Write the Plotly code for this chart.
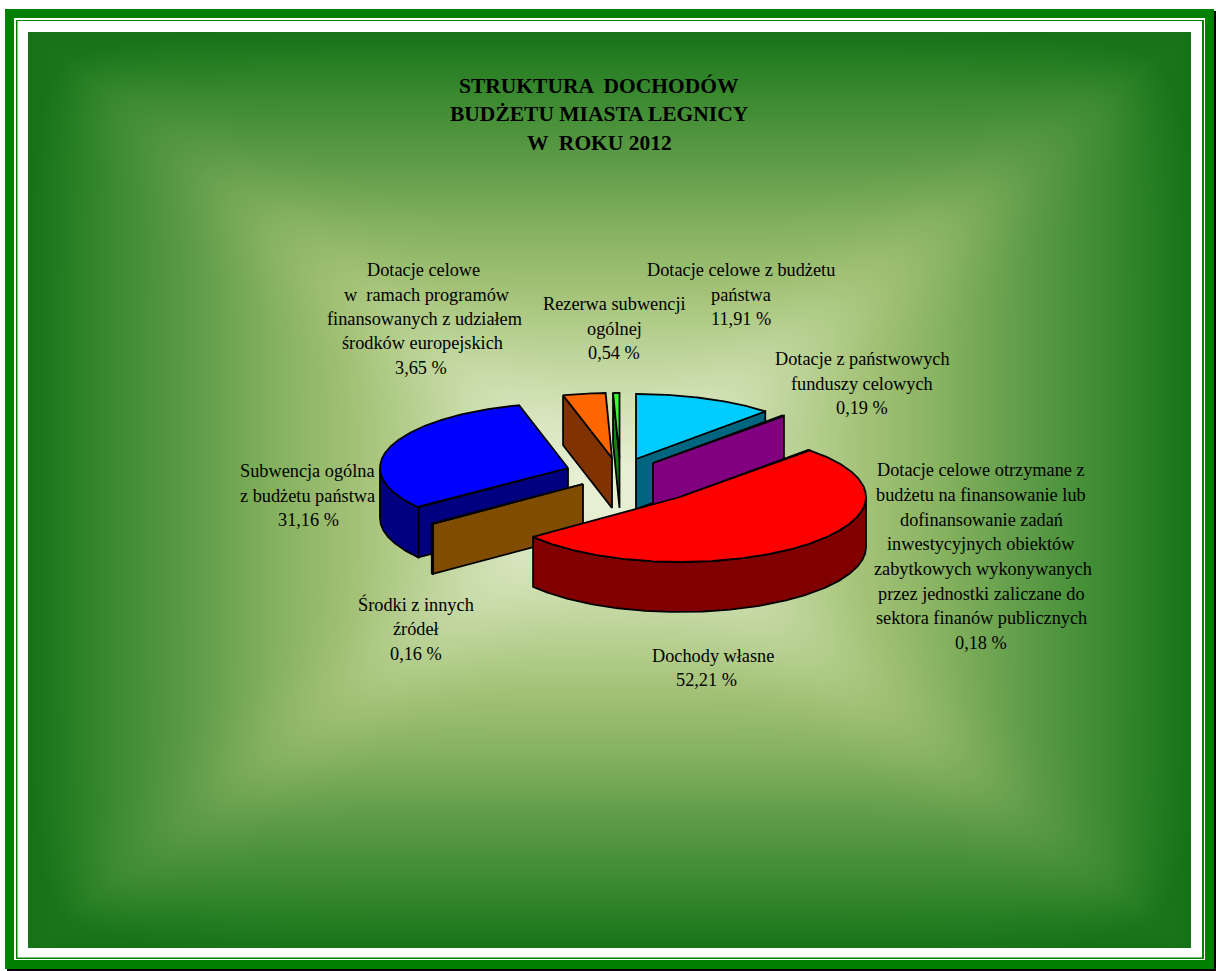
import numpy as np
import plotly.graph_objects as go

# ---- data ----
CATEGORIES = [
    "Dotacje celowe z budżetu państwa",
    "Dotacje z państwowych funduszy celowych",
    "Dotacje celowe otrzymane z budżetu na finansowanie lub dofinansowanie zadań inwestycyjnych obiektów zabytkowych",
    "Dochody własne",
    "Środki z innych źródeł",
    "Subwencja ogólna z budżetu państwa",
    "Dotacje celowe w ramach programów finansowanych z udziałem środków europejskich",
    "Rezerwa subwencji ogólnej",
]
VALUES = [11.91, 0.19, 0.18, 52.21, 0.16, 31.16, 3.65, 0.54]
TOP_COLORS = ["#00ccff", "#ff00ff", "#ff0000", "#ff0000", "#ff9900", "#0000ff", "#ff6600", "#33ff33"]
SIDE_COLORS = ["#006680", "#800080", "#800000", "#800000", "#804d00", "#000080", "#803300", "#1a801a"]

# exploded slice centres and radii on the page
CENTER_X = [636, 653, 680, 680, 583, 568, 612, 619.5]
CENTER_Y = [459, 463, 497, 497, 484, 468, 458, 458]
RADIUS_X = [190, 190, 186, 186, 190, 188, 188, 190]
DRAW_ORDER = [0, 1, 2, 6, 7, 5, 4, 3]
RY, DEPTH = 65, 50

TITLE_LINES = ["STRUKTURA  DOCHODÓW", "BUDŻETU MIASTA LEGNICY", "W  ROKU 2012"]
TITLE_X = [599, 599, 599]
TITLE_Y = [86, 114, 143]

LABEL_LINES = [
    "Dotacje celowe", "w  ramach programów", "finansowanych z udziałem", "środków europejskich", "3,65 %",
    "Rezerwa subwencji", "ogólnej", "0,54 %",
    "Dotacje celowe z budżetu", "państwa", "11,91 %",
    "Dotacje z państwowych", "funduszy celowych", "0,19 %",
    "Dotacje celowe otrzymane z", "budżetu na finansowanie lub", "dofinansowanie zadań",
    "inwestycyjnych obiektów", "zabytkowych wykonywanych", "przez jednostki zaliczane do",
    "sektora finanów publicznych", "0,18 %",
    "Dochody własne", "52,21 %",
    "Subwencja ogólna", "z budżetu państwa", "31,16 %",
    "Środki z innych", "źródeł", "0,16 %",
]
LABEL_X = [423, 427, 424, 422, 421,
           614, 614, 614,
           741, 741, 741,
           862, 862, 862,
           981, 981, 981, 981, 983, 981, 981, 981,
           713, 706,
           307, 307, 308,
           416, 416, 416]
LABEL_Y = [270, 295, 319, 343, 368,
           304, 329, 353,
           270, 295, 319,
           359, 384, 408,
           470, 495, 520, 544, 569, 594, 618, 643,
           656, 680,
           471, 496, 520,
           604, 629, 654]

FONT = "Liberation Serif"
FONT_SIZE = 18.3
TITLE_SIZE = 21.5
GREEN = "#008000"

fig = go.Figure()


# ---- background gradient (decorative panel) ----
nx, ny = 232, 184
x0, x1, y0, y1 = 28, 1191, 32, 948
dx, dy = (x1 - x0) / nx, (y1 - y0) / ny
bx = x0 + dx * (np.arange(nx) + 0.5)
by = y0 + dy * (np.arange(ny) + 0.5)
gx, gy = np.meshgrid(bx, by)
u = np.abs((gx - 610) / 581)
v = np.abs((gy - 490) / 458)
t = np.clip((u ** 10 + v ** 10) ** 0.1, 0, 1)
edge = np.clip(np.minimum(1 - u, 1 - v) / 0.14, 0, 1)
ridge = np.exp(-(((u - v) / 0.13) ** 2)) * edge
s = np.clip(1.05 * (1 - t) + 0.05 * ridge * np.clip(np.maximum(u, v) / 0.5, 0, 1), 0, 1)
fig.add_trace(go.Heatmap(
    x=bx, y=by, z=s, zmin=0, zmax=1, zsmooth="best", showscale=False, hoverinfo="skip",
    colorscale=[[0, "#167318"], [0.15, "#3b8a30"], [0.3, "#5f9c48"], [0.45, "#86b25f"],
                [0.6, "#a5c378"], [0.8, "#c8dba8"], [1, "#e6efd2"]],
))


def poly(xs, ys, fill):
    fig.add_trace(go.Scatter(
        x=list(xs) + [xs[0]], y=list(ys) + [ys[0]], mode="lines", fill="toself",
        fillcolor=fill, line=dict(color="black", width=1.8), hoverinfo="skip", showlegend=False,
    ))


# ---- pie slices from values ----
edges = np.concatenate([[0], np.cumsum(VALUES)]) / np.sum(VALUES) * 360
for i in DRAW_ORDER:
    a0, a1 = edges[i], edges[i + 1]
    cx, cy, rad = CENTER_X[i], CENTER_Y[i], RADIUS_X[i]
    top, side = TOP_COLORS[i], SIDE_COLORS[i]

    def pt(deg):
        a = np.radians(deg)
        return cx + rad * np.sin(a), cy - RY * np.cos(a)

    # flat cut faces turned towards the viewer
    for ang, visible in ((a0, np.sin(np.radians(a0)) < 0), (a1, np.sin(np.radians(a1)) > 0)):
        if visible:
            ex, ey = pt(ang)
            poly([cx, ex, ex, cx], [cy, ey, ey + DEPTH, cy + DEPTH], side)
    # outer rim in the front half
    lo, hi = max(a0, 90), min(a1, 270)
    if hi > lo:
        th = np.linspace(lo, hi, max(2, int((hi - lo) * 2)))
        rx, ry = pt(th)
        poly(np.r_[rx, rx[::-1]], np.r_[ry, ry[::-1] + DEPTH], side)
    # top face
    th = np.linspace(a0, a1, max(2, int((a1 - a0) * 2)))
    tx, ty = pt(th)
    poly(np.r_[cx, tx], np.r_[cy, ty], top)

# ---- texts ----
notes = []
for txt, x, y in zip(TITLE_LINES, TITLE_X, TITLE_Y):
    notes.append(dict(x=x, y=y, text=f"<b>{txt}</b>", xref="x", yref="y", showarrow=False,
                      xanchor="center", yanchor="middle",
                      font=dict(family=FONT, size=TITLE_SIZE, color="black")))
for txt, x, y in zip(LABEL_LINES, LABEL_X, LABEL_Y):
    notes.append(dict(x=x, y=y, text=txt, xref="x", yref="y", showarrow=False,
                      xanchor="center", yanchor="middle",
                      font=dict(family=FONT, size=FONT_SIZE, color="black")))


# ---- page frame ----
def rect(a, b, c, d, col):
    return dict(type="rect", x0=a, x1=c, y0=b, y1=d, xref="x", yref="y", layer="below",
                fillcolor=col, line=dict(width=0))


shapes = [
    rect(7, 11, 1216, 971, "black"),
    rect(5, 9, 1214, 969, GREEN),
    rect(14, 18, 1205, 960, "white"),
    rect(16, 20, 1204, 959, GREEN),
    rect(17.5, 21, 1202, 957.5, "white"),
]

fig.update_layout(
    width=1216, height=971, margin=dict(l=0, r=0, t=0, b=0),
    paper_bgcolor="white", plot_bgcolor="white", showlegend=False,
    xaxis=dict(range=[0, 1216], visible=False, fixedrange=True),
    yaxis=dict(range=[971, 0], visible=False, fixedrange=True),
    annotations=notes, shapes=shapes,
)
fig.write_html("out.html", config={"displayModeBar": False},
               post_script="document.body.style.margin='0';document.documentElement.style.overflow='hidden';")
